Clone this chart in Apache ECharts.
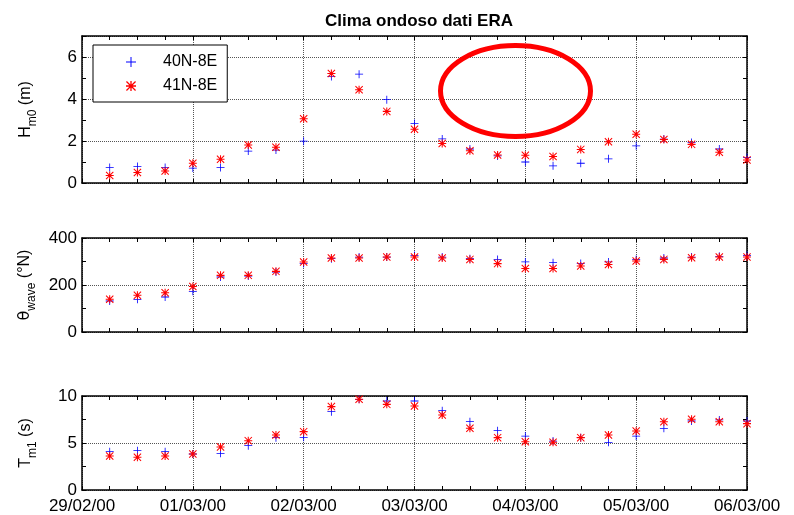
<!DOCTYPE html>
<html>
<head>
<meta charset="utf-8">
<title>Clima ondoso dati ERA</title>
<script src="https://cdn.jsdelivr.net/npm/echarts@6/dist/echarts.min.js"></script>
<style>
  html, body { margin: 0; padding: 0; background: #fff; }
  #chart { width: 794px; height: 515px; }
</style>
</head>
<body>
<div id="chart"></div>
<script>
// campioni ogni 6 ore
var times = [
  '2000-02-29T06:00Z', '2000-02-29T12:00Z', '2000-02-29T18:00Z',
  '2000-03-01T00:00Z', '2000-03-01T06:00Z', '2000-03-01T12:00Z', '2000-03-01T18:00Z',
  '2000-03-02T00:00Z', '2000-03-02T06:00Z', '2000-03-02T12:00Z', '2000-03-02T18:00Z',
  '2000-03-03T00:00Z', '2000-03-03T06:00Z', '2000-03-03T12:00Z', '2000-03-03T18:00Z',
  '2000-03-04T00:00Z', '2000-03-04T06:00Z', '2000-03-04T12:00Z', '2000-03-04T18:00Z',
  '2000-03-05T00:00Z', '2000-03-05T06:00Z', '2000-03-05T12:00Z', '2000-03-05T18:00Z',
  '2000-03-06T00:00Z'
]
var seriesNames = ['40N-8E', '41N-8E']

// Hm0 (m)
var hm0_40 = [0.74, 0.78, 0.74, 0.71, 0.74, 1.52, 1.57, 1.99, 5.07, 5.18, 3.97, 2.83,
  2.10, 1.62, 1.29, 1.00, 0.82, 0.94, 1.15, 1.77, 2.09, 1.93, 1.62, 1.22]
var hm0_41 = [0.36, 0.50, 0.57, 0.94, 1.13, 1.81, 1.70, 3.06, 5.21, 4.44, 3.41, 2.56,
  1.88, 1.54, 1.33, 1.32, 1.26, 1.60, 1.96, 2.32, 2.07, 1.84, 1.46, 1.10]
// theta wave (°N)
var dir_40 = [132, 139, 149, 173, 234, 238, 255, 291, 312, 319, 319, 326,
  319, 312, 309, 298, 295, 291, 298, 308, 315, 319, 322, 326]
var dir_41 = [139, 156, 167, 194, 241, 241, 258, 298, 315, 315, 319, 319,
  315, 309, 291, 270, 270, 281, 287, 302, 309, 316, 319, 319]
// Tm1 (s)
var tm1_40 = [4.08, 4.18, 4.08, 3.83, 3.90, 4.72, 5.57, 5.60, 8.33, 9.65, 9.47, 9.47,
  8.44, 7.27, 6.31, 5.74, 5.21, 5.57, 5.07, 5.74, 6.56, 7.34, 7.45, 7.34]
var tm1_41 = [3.62, 3.48, 3.62, 3.83, 4.57, 5.25, 5.85, 6.21, 8.87, 9.65, 9.11, 8.94,
  7.98, 6.56, 5.57, 5.14, 5.07, 5.57, 5.85, 6.28, 7.27, 7.52, 7.27, 7.06]

var xStart = '2000-02-29T00:00Z'
var xEnd = '2000-03-06T00:00Z'
// per pannello: max, passo dei tick, passo etichette/griglia
var yMax = [7, 400, 10]
var yTickStep = [1, 100, 2.5]
var yLabelStep = [2, 200, 5]

var DAY = 86400000
var FONT = 'Liberation Sans, Arial, sans-serif'
var plusSym = 'path://M4.5,0h1v10h-1z M0,4.5h10v1h-10z'
var starSym = 'path://M4.35,0h1.3v10h-1.3z M0,4.35h10v1.3h-10z M0,0.9L0.9,0L10,9.1L9.1,10Z M9.1,0L10,0.9L0.9,10L0,9.1Z'

var chart = echarts.init(document.getElementById('chart'), null, {renderer: 'canvas'})

var t0 = Date.parse(xStart)
var t1 = Date.parse(xEnd)
var tData = times.map(function (s) { return Date.parse(s) })

function pad(n) { return (n < 10 ? '0' : '') + n }
function fmtDate(v) {
  var d = new Date(v)
  return pad(d.getUTCDate()) + '/' + pad(d.getUTCMonth() + 1) + '/' + pad(d.getUTCFullYear() % 100)
}

var grids = [
  {left: 82, right: 47, top: 36, height: 147},
  {left: 82, right: 47, top: 238, height: 94},
  {left: 82, right: 47, top: 396, height: 94}
]
var names = [
  '{a|H}{s|m0}{a| (m)}',
  '{g|θ}{s|wave}{a| (°N)}',
  '{a|T}{s|m1}{a| (s)}'
]
var values = [[hm0_40, hm0_41], [dir_40, dir_41], [tm1_40, tm1_41]]

var axisLine = {show: true, onZero: false, lineStyle: {color: '#000', width: 1.5}}
var tick = {show: true, inside: true, length: 4, lineStyle: {color: '#000', width: 1}}
var minor = {show: true, splitNumber: 4, length: 4, lineStyle: {color: '#000', width: 1}}
var gridLine = {show: true, lineStyle: {color: '#555', type: 'dotted', width: 1}}

var xAxes = []
var yAxes = []
var series = []

for (var i = 0; i < 3; i++) {
  // asse x in basso (etichette solo nell'ultimo pannello)
  xAxes.push({
    type: 'value', gridIndex: i, position: 'bottom', min: t0, max: t1, interval: DAY,
    axisLine: axisLine, axisTick: tick, minorTick: minor, splitLine: gridLine,
    axisLabel: {show: i === 2, formatter: fmtDate, color: '#000', fontFamily: FONT, fontSize: 17, margin: 8}
  })
  // asse x in alto (solo box e tick)
  xAxes.push({
    type: 'value', gridIndex: i, position: 'top', min: t0, max: t1, interval: DAY,
    axisLine: axisLine, axisTick: tick, minorTick: minor,
    splitLine: {show: false}, axisLabel: {show: false}
  })
  var step = yLabelStep[i]
  // asse y sinistro
  yAxes.push({
    type: 'value', gridIndex: i, position: 'left', min: 0, max: yMax[i], interval: yTickStep[i],
    axisLine: axisLine, axisTick: tick, splitLine: {show: false},
    axisLabel: {
      color: '#000', fontFamily: FONT, fontSize: 17, margin: 5,
      formatter: (function (st) {
        return function (v) { return Math.abs(v / st - Math.round(v / st)) < 1e-6 ? String(v) : '' }
      })(step)
    },
    name: names[i], nameLocation: 'middle', nameRotate: 90, nameGap: 46,
    nameTextStyle: {
      color: '#000', fontFamily: FONT,
      rich: {
        a: {fontSize: 16, fontFamily: FONT, color: '#000', lineHeight: 18, verticalAlign: 'top'},
        g: {fontSize: 16, fontFamily: 'DejaVu Sans', color: '#000', lineHeight: 18, verticalAlign: 'top'},
        s: {fontSize: 12, fontFamily: FONT, color: '#000', lineHeight: 12, verticalAlign: 'top', padding: [9, 0, 0, 0]}
      }
    }
  })
  // asse y destro (box)
  yAxes.push({
    type: 'value', gridIndex: i, position: 'right', min: 0, max: yMax[i], interval: yTickStep[i],
    axisLine: axisLine, axisTick: tick, splitLine: {show: false}, axisLabel: {show: false}
  })
  // asse nascosto solo per la griglia orizzontale
  yAxes.push({
    type: 'value', gridIndex: i, position: 'left', min: 0, max: yMax[i], interval: step,
    axisLine: {show: false}, axisTick: {show: false}, axisLabel: {show: false},
    splitLine: gridLine
  })

  for (var k = 0; k < 2; k++) {
    series.push({
      name: seriesNames[k],
      type: 'scatter',
      xAxisIndex: i * 2,
      yAxisIndex: i * 3,
      symbol: k === 0 ? plusSym : starSym,
      symbolSize: 8,
      itemStyle: {color: k === 0 ? '#0000ff' : '#ff0000', opacity: 1},
      emphasis: {disabled: true},
      silent: true,
      z: 3 + k,
      data: tData.map(function (t, j) { return [t, values[i][k][j]] })
    })
  }
}

var option = {
  animation: false,
  backgroundColor: '#fff',
  title: {
    text: 'Clima ondoso dati ERA',
    left: 414, top: 8, textAlign: 'center',
    textStyle: {fontFamily: FONT, fontSize: 17, fontWeight: 'bold', color: '#000'}
  },
  legend: {
    data: seriesNames,
    orient: 'vertical',
    left: 93, top: 45,
    padding: [9, 10, 8, 33],
    itemWidth: 10, itemHeight: 10, itemGap: 8,
    backgroundColor: '#fff',
    borderColor: '#000', borderWidth: 1, borderRadius: 0,
    selectedMode: false,
    textStyle: {fontFamily: FONT, fontSize: 16, color: '#000', padding: [0, 0, 0, 22]}
  },
  grid: grids,
  xAxis: xAxes,
  yAxis: yAxes,
  series: series
}
chart.setOption(option)

// ellisse rossa (annotazione a mano)
chart.setOption({
  graphic: [{
    type: 'ellipse',
    shape: {cx: 515.5, cy: 91, rx: 75, ry: 45.5},
    style: {fill: 'none', stroke: '#ff0000', lineWidth: 5},
    z: 100, silent: true
  }]
})
</script>
</body>
</html>
